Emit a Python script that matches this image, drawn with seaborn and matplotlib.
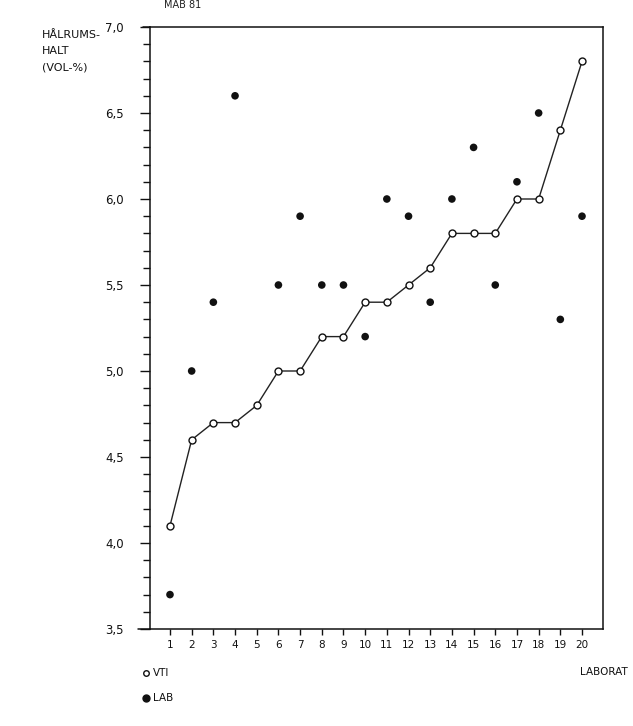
import numpy as np
import pandas as pd
import matplotlib
matplotlib.use("Agg")
import matplotlib.pyplot as plt
from matplotlib.ticker import MultipleLocator, FuncFormatter
from matplotlib.lines import Line2D
import seaborn as sns

labs = list(range(1, 21))
vti = [4.1, 4.6, 4.7, 4.7, 4.8, 5.0, 5.0, 5.2, 5.2, 5.4,
       5.4, 5.5, 5.6, 5.8, 5.8, 5.8, 6.0, 6.0, 6.4, 6.8]
lab = [3.7, 5.0, 5.4, 6.6, np.nan, 5.5, 5.9, 5.5, 5.5, 5.2,
       6.0, 5.9, 5.4, 6.0, 6.3, 5.5, 6.1, 6.5, 5.3, 5.9]
yticks = [3.5, 4.0, 4.5, 5.0, 5.5, 6.0, 6.5, 7.0]

df = pd.DataFrame({"lab": labs, "VTI": vti, "LAB": lab})

sns.set_style("white")
plt.rcParams['font.family'] = ['DejaVu Sans']

fig = plt.figure(figsize=(6.33, 7.26), dpi=100)
L, R, B, T = 150/633, 603/633, 1-629/726, 1-27/726
ax = fig.add_axes([L, B, R-L, T-B])

sns.lineplot(data=df, x="lab", y="VTI", ax=ax, color="#222222", lw=1.0,
             marker="o", markersize=5, markerfacecolor="white",
             markeredgecolor="#111111", markeredgewidth=1.0, zorder=3)
sns.scatterplot(data=df.dropna(), x="lab", y="LAB", ax=ax, color="#111111",
                s=30, edgecolor="none", zorder=4)

ax.set_xlim(1 - 20/21.7, 20 + 21/21.7)
ax.set_ylim(3.5, 7.0)
ax.set_xlabel("")
ax.set_ylabel("")
ax.set_xticks(labs)
ax.set_xticklabels([str(i) for i in labs], fontsize=7.5)
ax.set_yticks(yticks)
ax.yaxis.set_major_formatter(FuncFormatter(lambda v, p: f"{v:.1f}".replace(".", ",")))
ax.yaxis.set_minor_locator(MultipleLocator(0.1))
ax.tick_params(axis="y", which="major", direction="out", length=7, width=1.0,
               labelsize=8.5, pad=12, left=True, colors="#111111")
ax.tick_params(axis="y", which="minor", direction="out", length=5, width=1.0, left=True,
               colors="#111111")
ax.tick_params(axis="x", which="major", direction="out", length=4, width=1.0,
               labelsize=7.5, pad=4, bottom=True, colors="#111111")
for s in ax.spines.values():
    s.set_color("#111111")
    s.set_linewidth(1.1)

# extended axis lines
fig.add_artist(Line2D([138/633, L], [B, B], transform=fig.transFigure, color="#111111", lw=1.1))
fig.add_artist(Line2D([143/633, L], [T, T], transform=fig.transFigure, color="#111111", lw=1.1))

fig.text(183/633, 1-5/726, "MAB 81", fontsize=7, ha="center", va="center", color="#222222")
fig.text(42/633, 1-51/726, "HÅLRUMS-\nHALT\n(VOL-%)", fontsize=8, ha="left", va="center",
         linespacing=1.75, color="#111111")
fig.text(580/633, 1-672/726, "LABORAT", fontsize=7.5, ha="left", va="center", color="#111111")

ax_leg_y = [1-673/726, 1-698/726]
fig.add_artist(Line2D([146/633], [ax_leg_y[0]], transform=fig.transFigure, marker="o", markersize=4,
                      markerfacecolor="white", markeredgecolor="#111111", markeredgewidth=1.0, lw=0))
fig.add_artist(Line2D([146/633], [ax_leg_y[1]], transform=fig.transFigure, marker="o", markersize=5,
                      markerfacecolor="#111111", markeredgecolor="#111111", lw=0))
fig.text(153/633, ax_leg_y[0], "VTI", fontsize=7.5, ha="left", va="center", color="#111111")
fig.text(153/633, ax_leg_y[1], "LAB", fontsize=7.5, ha="left", va="center", color="#111111")

fig.savefig("out.png", dpi=100)
